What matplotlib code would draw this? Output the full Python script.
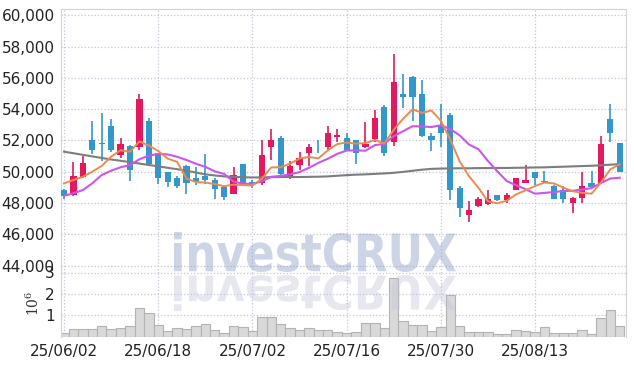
import numpy as np
import matplotlib.pyplot as plt
from matplotlib.textpath import TextPath
from matplotlib.patches import PathPatch
from matplotlib.font_manager import FontProperties
from matplotlib.transforms import Affine2D
from matplotlib.ticker import FuncFormatter

plt.rcParams['font.family'] = ['Liberation Sans Narrow', 'DejaVu Sans']
plt.rcParams['mathtext.fontset'] = 'dejavuserif'

# daily candles, 25/06/02 .. 25/08/27
tick_pos = [0, 10, 20, 30, 40, 50]
tick_labels = ['25/06/02', '25/06/18', '25/07/02', '25/07/16', '25/07/30', '25/08/13']

opens = [48850, 48500, 49650, 52050, 51800, 52900, 51050, 51650, 51550, 53250,
         51200, 49950, 49600, 50350, 49600, 49750, 49500, 49000, 48600, 50500,
         49350, 49250, 51600, 52150, 49750, 50450, 51200, 51600, 51550, 52250,
         52150, 52000, 51550, 52100, 54150, 51900, 54950, 56050, 54950, 52300,
         52900, 53650, 48950, 47250, 47800, 47950, 48500, 48200, 48850, 49300,
         50000, 49400, 49100, 48850, 48000, 48300, 49250, 49250, 53400, 51850]
highs = [48900, 50650, 51000, 53250, 53750, 53350, 52150, 51700, 55000, 53450,
         51200, 50000, 49700, 50450, 50300, 51100, 49600, 49100, 50300, 50500,
         49450, 52050, 52700, 52300, 50700, 51250, 51750, 52050, 52900, 52700,
         52500, 52000, 53200, 53950, 54250, 57500, 56250, 56100, 55850, 52450,
         54350, 53750, 49100, 48100, 48400, 48850, 48500, 48650, 49600, 50450,
         50000, 50050, 49150, 49100, 48400, 50000, 50050, 52300, 54350, 51850]
lows = [48250, 48450, 49600, 51150, 50700, 51250, 50900, 49400, 51400, 50350,
        49200, 49000, 48950, 48600, 49150, 49200, 48250, 48200, 48550, 49150,
        48950, 49150, 50750, 49800, 49550, 50100, 50350, 51200, 51300, 51900,
        51300, 50500, 51500, 51900, 51000, 51650, 54100, 53250, 52200, 51300,
        51600, 48200, 47100, 46800, 47750, 47850, 48100, 48000, 48800, 49300,
        49150, 49300, 48250, 48000, 47350, 48000, 48950, 49200, 51900, 49950]
closes = [48450, 49750, 50550, 51400, 51750, 51400, 51750, 50100, 54650, 50500,
          49600, 49350, 49100, 49300, 49350, 49450, 48900, 48400, 49800, 49200,
          49250, 51050, 52050, 49850, 50350, 50900, 51600, 51550, 52450, 52350,
          51400, 51200, 51750, 53450, 51200, 55750, 54800, 54750, 52300, 52000,
          52500, 48850, 47700, 47550, 48250, 48250, 48200, 48500, 49600, 49500,
          49600, 49350, 48250, 48250, 48350, 49100, 49050, 51800, 52450, 50000]
volumes = [0.16, 0.35, 0.35, 0.35, 0.50, 0.35, 0.39, 0.50, 1.33, 1.10,
           0.53, 0.27, 0.39, 0.35, 0.50, 0.58, 0.31, 0.16, 0.50, 0.44,
           0.27, 0.94, 0.94, 0.60, 0.41, 0.31, 0.41, 0.31, 0.31, 0.22,
           0.19, 0.22, 0.63, 0.63, 0.41, 2.74, 0.72, 0.55, 0.55, 0.27,
           0.44, 1.96, 0.50, 0.20, 0.20, 0.20, 0.11, 0.11, 0.31, 0.27,
           0.22, 0.44, 0.16, 0.16, 0.16, 0.30, 0.11, 0.88, 1.24, 0.50]
ma5 = [49258, 49469, 49681, 50000, 50373, 50961, 51370, 51281, 51933, 51681,
       51319, 50837, 50633, 49562, 49336, 49305, 49212, 49075, 49174, 49144,
       49115, 49549, 50275, 50287, 50518, 50841, 50947, 50849, 51369, 51766,
       51864, 51788, 51831, 52027, 51800, 52674, 53390, 53991, 53761, 53914,
       53262, 52069, 50657, 49711, 48962, 48110, 47982, 48144, 48553, 48809,
       49078, 49308, 49253, 48981, 48750, 48652, 48592, 49308, 50152, 50480]
ma10 = [48465, 48618, 48830, 49258, 49789, 50064, 50282, 50428, 50795, 51027,
        51140, 51104, 50957, 50748, 50509, 50312, 50025, 49854, 49368, 49240,
        49210, 49381, 49675, 49731, 49831, 49978, 50248, 50562, 50828, 51142,
        51353, 51368, 51340, 51698, 51783, 52269, 52589, 52911, 52894, 52857,
        52968, 52730, 52324, 51736, 51438, 50686, 50026, 49400, 49131, 48884,
        48593, 48644, 48698, 48766, 48779, 48864, 48949, 49280, 49565, 49614]
ma_long = [51280, 51180, 51080, 50980, 50880, 50780, 50700, 50610, 50520, 50430,
           50340, 50250, 50160, 50060, 49950, 49830, 49760, 49700, 49670, 49650,
           49630, 49640, 49650, 49660, 49660, 49660, 49670, 49680, 49700, 49740,
           49780, 49810, 49830, 49860, 49890, 49930, 49990, 50060, 50130, 50180,
           50200, 50210, 50220, 50220, 50230, 50230, 50240, 50240, 50250, 50260,
           50270, 50280, 50300, 50320, 50340, 50360, 50380, 50410, 50450, 50490]

RED = '#e2195e'
BLUE = '#3397c9'
W, H = 634, 366

fig = plt.figure(figsize=(W / 100, H / 100), dpi=100)
left, right = 61.5, 626
top, sep, bottom = 9.3, 272.5, 336.7
ax = fig.add_axes([left / W, 1 - sep / H, (right - left) / W, (sep - top) / H])
axv = fig.add_axes([left / W, 1 - bottom / H, (right - left) / W, (bottom - sep) / H], sharex=ax)

x = np.arange(len(closes))
o = np.array(opens)
c = np.array(closes)
up = c > o
colors = np.where(up, RED, BLUE)

ax.vlines(x, lows, highs, colors=colors, linewidth=1.2, zorder=2)
ax.bar(x, np.maximum(np.abs(c - o), 60), bottom=np.minimum(o, c), width=0.66,
       color=colors, zorder=3)
ax.plot(x, ma_long, color='#7d7d7d', linewidth=1.5, zorder=4)
ax.plot(x, ma10, color='#cc55ee', linewidth=1.5, zorder=4)
ax.plot(x, ma5, color='#ee8a4f', linewidth=1.4, zorder=5)

ax.set_ylim(43555, 60384)
ax.set_xlim(-0.27, 59.66)
ax.set_yticks(range(44000, 60001, 2000))
ax.yaxis.set_major_formatter(FuncFormatter(lambda v, p: f'{int(v):,}'))
ax.grid(True, linestyle=':', color='#c3c6d8', linewidth=0.9)
ax.set_axisbelow(True)
ax.tick_params(axis='y', length=0, labelsize=11, labelcolor='#222222', pad=5)
ax.tick_params(axis='x', length=0, labelbottom=False)
for s in ['top', 'left', 'right']:
    ax.spines[s].set_color('#d4d4d4')
ax.spines['bottom'].set_color('#9a9a9a')

axv.bar(x, volumes, width=1.0, color='#d9d9d9', edgecolor='#b3b3b3', linewidth=0.8, zorder=2)
axv.set_ylim(0, 3.0)
axv.set_yticks([1, 2, 3])
axv.set_xticks(tick_pos)
axv.set_xticklabels(tick_labels)
axv.grid(True, linestyle=':', color='#c3c6d8', linewidth=0.9)
axv.set_axisbelow(True)
axv.tick_params(length=0, labelsize=11, labelcolor='#222222', pad=5)
axv.spines['top'].set_visible(False)
axv.spines['bottom'].set_visible(False)
for s in ['left', 'right']:
    axv.spines[s].set_color('#d4d4d4')

fig.text(33 / W, 1 - 303 / H, r'$10^{6}$', rotation=90, ha='center', va='center',
         fontsize=10, color='#333333')

# watermark with reflection
fp = FontProperties(family='DejaVu Sans', weight='bold')
tp = TextPath((0, 0), 'investCRUX', size=100, prop=fp)
bb = tp.get_extents()
wx0, wx1 = 174, 456
sx = (wx1 - wx0) / bb.width
t_main = Affine2D().translate(-bb.x0, -bb.y0).scale(sx, 40 / bb.height).translate(wx0, H - 272)
t_refl = Affine2D().translate(-bb.x0, -bb.y0).scale(sx, -36 / bb.height).translate(wx0, H - 275)
fig.add_artist(PathPatch(tp, transform=t_main, facecolor=(0.51, 0.58, 0.75), edgecolor='none',
                         alpha=0.4, zorder=10))
fig.add_artist(PathPatch(tp, transform=t_refl, facecolor=(0.77, 0.77, 0.85), edgecolor='none',
                         alpha=0.4, zorder=10))

fig.savefig('out.png', dpi=100)
